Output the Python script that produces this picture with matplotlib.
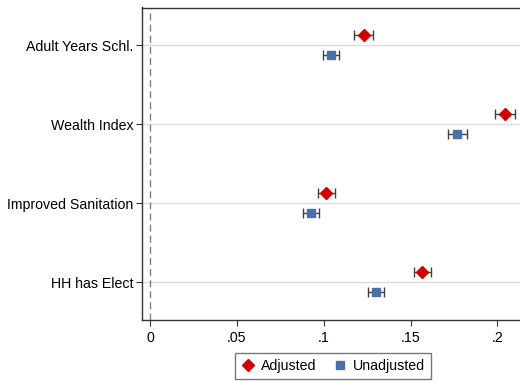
import matplotlib
matplotlib.use("Agg")
import matplotlib.pyplot as plt
import numpy as np

plt.rcParams['font.family'] = ['Liberation Sans', 'DejaVu Sans']

categories = ["Adult Years Schl.", "Wealth Index", "Improved Sanitation", "HH has Elect"]

adj_est = [0.123, 0.2044, 0.1013, 0.1568]
adj_lo = [0.1176, 0.1988, 0.0965, 0.1518]
adj_hi = [0.1284, 0.2100, 0.1063, 0.1620]

unadj_est = [0.104, 0.1769, 0.0929, 0.1301]
unadj_lo = [0.0994, 0.1714, 0.0883, 0.1257]
unadj_hi = [0.1088, 0.1827, 0.0973, 0.1349]

xticks = [0, 0.05, 0.1, 0.15, 0.2]
xticklabels = ["0", ".05", ".1", ".15", ".2"]

red = "#cc0000"
blue = "#4a70a8"

fig = plt.figure(figsize=(5.2, 3.81), dpi=100)
ax = fig.add_axes([141.7 / 520, 1 - 320 / 381, (520 - 141.7) / 520, (320 - 7.5) / 381])

ypos = np.arange(len(categories))[::-1] + 1.0
off = 0.127

ax.axvline(0, color="#808080", linestyle=(0, (5, 3)), linewidth=1.0, zorder=1)
for y in ypos:
    ax.axhline(y, color="#dcdcdc", linewidth=1.0, zorder=0)

def draw(est, lo, hi, dy, marker, color, ms, label):
    est = np.array(est)
    xerr = np.vstack([est - np.array(lo), np.array(hi) - est])
    ax.errorbar(est, ypos + dy, xerr=xerr, fmt="none", ecolor="#404040",
                elinewidth=1.0, capsize=3.5, capthick=1.0, zorder=2)
    ax.plot(est, ypos + dy, linestyle="none", marker=marker, color=color,
            markersize=ms, zorder=3, label=label)

draw(adj_est, adj_lo, adj_hi, off, "D", red, 6.5, "Adjusted")
draw(unadj_est, unadj_lo, unadj_hi, -off, "s", blue, 6.0, "Unadjusted")

ax.set_xlim(-0.0048, 0.2130)
ax.set_ylim(0.523, 4.475)
ax.set_yticks(ypos)
ax.set_yticklabels(categories, fontsize=10.2)
ax.set_xticks(xticks)
ax.set_xticklabels(xticklabels, fontsize=10.2)
ax.tick_params(axis="both", direction="out", length=4, width=0.8, color="#333333")
ax.tick_params(axis="x", pad=4)
ax.tick_params(axis="y", pad=2)

ax.spines["right"].set_visible(False)
for side in ["left", "bottom", "top"]:
    ax.spines[side].set_color("#333333")
    ax.spines[side].set_linewidth(1.0)

leg = fig.legend(loc="center", bbox_to_anchor=(333 / 520, 1 - 366 / 381), ncol=2,
                 frameon=True, fancybox=False, fontsize=10.2, handletextpad=0.4,
                 columnspacing=1.2, borderpad=0.4, handlelength=1.0)
leg.get_frame().set_edgecolor("#555555")
leg.get_frame().set_linewidth(1.0)

fig.savefig("out.png", dpi=100)
